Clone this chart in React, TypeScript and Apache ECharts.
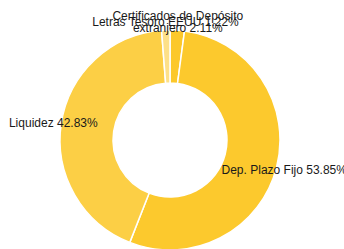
import React, { useEffect, useRef } from "react";
import * as echarts from "echarts";

const categories = [
  "Certificados de Depósito\nextranjero",
  "Dep. Plazo Fijo",
  "Liquidez",
  "Letras Tesoro EEUU",
];
const values = [2.11, 53.85, 42.83, 1.22];
const colors = ["#FCC82A", "#FCC92D", "#FCCF45", "#FDE088"];

export default function App() {
  const ref = useRef<HTMLDivElement>(null);
  useEffect(() => {
    document.body.style.margin = "0";
    const chart = echarts.init(ref.current!, null, { renderer: "svg" });
    chart.setOption({
      animation: false,
      series: [
        {
          type: "pie",
          center: [170, 140],
          radius: [57, 110],
          startAngle: 90,
          clockwise: true,
          avoidLabelOverlap: false,
          data: categories.map((name, i) => ({
            name,
            value: values[i],
            itemStyle: { color: colors[i] },
          })),
          itemStyle: { borderColor: "#fff", borderWidth: 1.5 },
          label: {
            show: true,
            position: "outside",
            formatter: (p: any) => `${p.name} ${p.value.toFixed(2)}%`,
            fontFamily: "Liberation Sans, Arial, sans-serif",
            fontSize: 12,
            lineHeight: 12,
            color: "#1a1a1a",
            align: "center",
          },
          labelLine: { show: true, length: 8, length2: 0, lineStyle: { opacity: 0 } },
          labelLayout: (params: any) => {
            const pts = params.labelLinePoints;
            if (!pts) return {};
            return { x: pts[1][0], y: pts[1][1], align: "center", verticalAlign: "middle" };
          },
          emphasis: { disabled: true },
        },
      ],
    });
    return () => chart.dispose();
  }, []);
  return <div ref={ref} style={{ width: 344, height: 249 }} />;
}
